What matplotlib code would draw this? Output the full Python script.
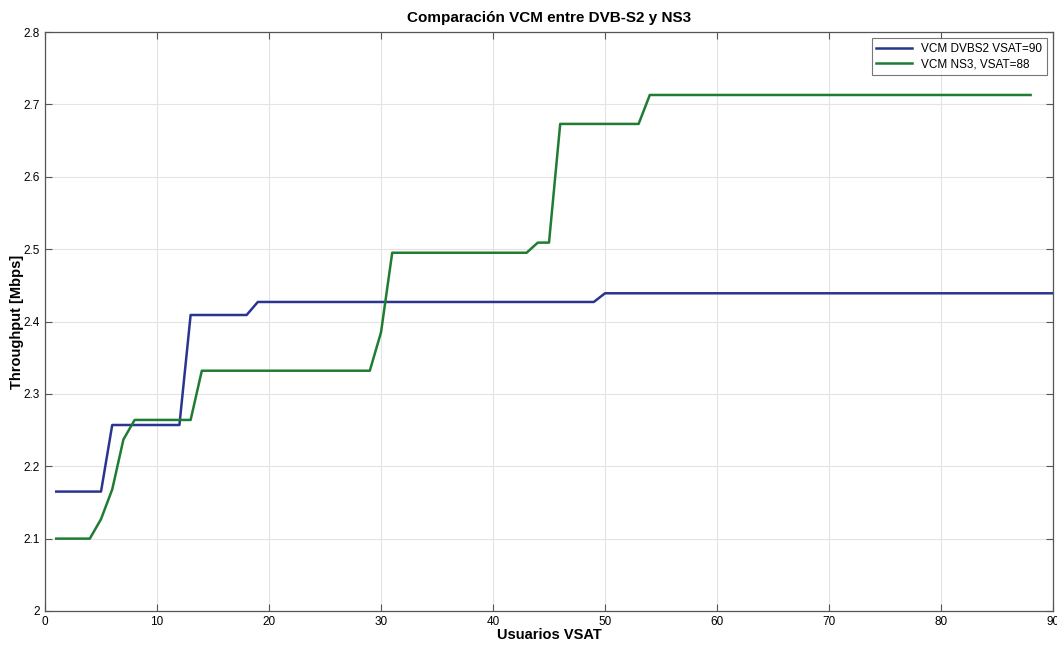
import numpy as np
import matplotlib.pyplot as plt

plt.rcParams['font.family'] = ['Liberation Sans', 'DejaVu Sans']

# VCM DVB-S2 (VSAT=90)
x_dvb = [1, 5, 6, 12, 13, 18, 19, 49, 50, 90]
y_dvb = [2.165, 2.165, 2.257, 2.257, 2.409, 2.409, 2.427, 2.427, 2.439, 2.439]

# VCM NS3 (VSAT=88)
x_ns3 = [1, 4, 5, 6, 7, 8, 13, 14, 29, 30, 31, 43, 44, 45, 46, 53, 54, 88]
y_ns3 = [2.100, 2.100, 2.127, 2.168, 2.237, 2.264, 2.264, 2.332, 2.332, 2.385,
         2.495, 2.495, 2.509, 2.509, 2.673, 2.673, 2.713, 2.713]

fig = plt.figure(figsize=(10.57, 6.48), dpi=100)
ax = fig.add_axes([0.0426, 0.0571, 0.9536, 0.8935])

ax.plot(x_dvb, y_dvb, color='#2b3590', lw=1.8, label='VCM DVBS2 VSAT=90')
ax.plot(x_ns3, y_ns3, color='#1f7d33', lw=1.8, label='VCM NS3, VSAT=88')

ax.set_xlim(0, 90)
ax.set_ylim(2, 2.8)
ax.set_xticks(np.arange(0, 91, 10))
ax.set_yticks(np.arange(2, 2.81, 0.1))
ax.set_yticklabels(['2', '2.1', '2.2', '2.3', '2.4', '2.5', '2.6', '2.7', '2.8'])
ax.grid(True, color='#e3e3e3', lw=0.8)
ax.tick_params(direction='in', top=True, right=True, labelsize=8.5, length=5, color='#555555')
for s in ax.spines.values():
    s.set_color('#555555')
    s.set_linewidth(0.9)

ax.set_title('Comparación VCM entre DVB-S2 y NS3', fontsize=11, fontweight='bold', pad=7)
ax.set_xlabel('Usuarios VSAT', fontsize=10.5, fontweight='bold', labelpad=0)
ax.set_ylabel('Throughput [Mbps]', fontsize=10.5, fontweight='bold')
ax.yaxis.set_label_coords(-0.021, 0.5)

leg = ax.legend(loc='upper right', fontsize=8.5, fancybox=False, edgecolor='#555555',
                handlelength=3, borderpad=0.4, labelspacing=0.3)
leg.get_frame().set_linewidth(0.8)

fig.savefig('out.png', dpi=100)
